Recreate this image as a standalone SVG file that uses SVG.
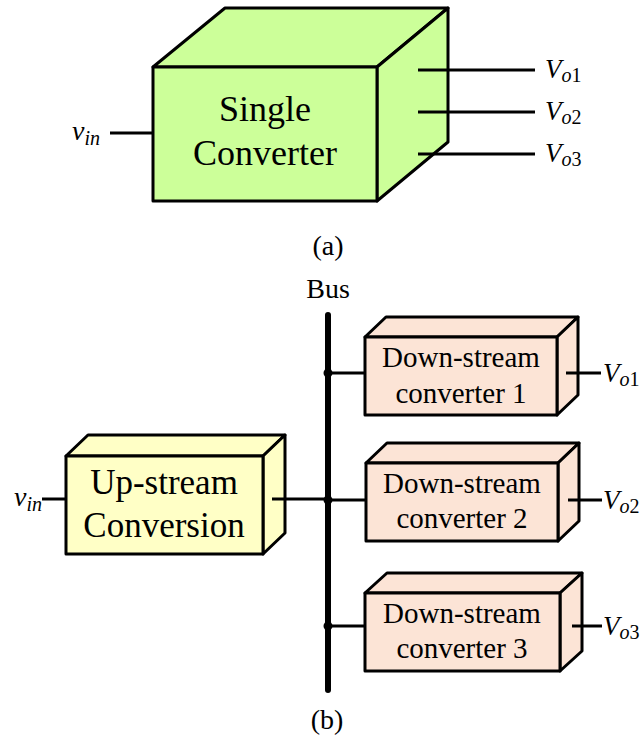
<svg xmlns="http://www.w3.org/2000/svg" width="643" height="749" viewBox="0 0 643 749" font-family="'Liberation Serif', 'Times New Roman', serif">
  <style>
    .box { stroke: #000; stroke-width: 3; stroke-linejoin: round; }
    .green { fill: #ccff99; }
    .yellow { fill: #ffffc6; }
    .peach { fill: #fce4d6; }
    .wire { stroke: #000; stroke-width: 3; fill: none; }
    .bus { stroke: #000; stroke-width: 6; stroke-linecap: round; fill: none; }
    text { fill: #000; }
    .lbl { text-anchor: middle; }
    .it { font-style: italic; }
  </style>

  <!-- (a) single converter -->
  <g id="single-converter">
    <polygon class="box green" points="153,67 225,8 448,8 377,67"/>
    <polygon class="box green" points="377,67 448,8 448,142 377,201"/>
    <rect class="box green" x="153" y="67" width="224" height="134"/>
    <text class="lbl" x="265" y="121" font-size="36">Single</text>
    <text class="lbl" x="265" y="165" font-size="36">Converter</text>
  </g>

  <g id="connectors-a">
    <line class="wire" x1="110" y1="133" x2="153" y2="133"/>
    <line class="wire" x1="418" y1="70" x2="535" y2="70"/>
    <line class="wire" x1="418" y1="112" x2="535" y2="112"/>
    <line class="wire" x1="418" y1="154" x2="535" y2="154"/>
  </g>

  <g id="labels-a">
    <text x="72" y="140" font-size="28" class="it">v<tspan font-size="20" dy="5">in</tspan></text>
    <text x="545" y="78" font-size="27" class="it">V<tspan font-size="20" dy="4">o</tspan><tspan font-size="20" font-style="normal">1</tspan></text>
    <text x="545" y="120" font-size="27" class="it">V<tspan font-size="20" dy="4">o</tspan><tspan font-size="20" font-style="normal">2</tspan></text>
    <text x="545" y="162" font-size="27" class="it">V<tspan font-size="20" dy="4">o</tspan><tspan font-size="20" font-style="normal">3</tspan></text>
    <text class="lbl" x="328" y="255" font-size="28">(a)</text>
  </g>

  <!-- (b) bus architecture -->
  <g id="up-stream">
    <polygon class="box yellow" points="66,456 88,435 285,435 263,456"/>
    <polygon class="box yellow" points="263,456 285,435 285,533 263,554"/>
    <rect class="box yellow" x="66" y="456" width="197" height="98"/>
    <text class="lbl" x="164" y="494" font-size="35">Up-stream</text>
    <text class="lbl" x="164" y="537" font-size="35">Conversion</text>
  </g>

  <g id="down-stream-1">
    <polygon class="box peach" points="365,337 386,317 578,317 557,337"/>
    <polygon class="box peach" points="557,337 578,317 578,395 557,415"/>
    <rect class="box peach" x="365" y="337" width="192" height="78"/>
    <text class="lbl" x="461" y="367" font-size="29">Down-stream</text>
    <text class="lbl" x="461" y="403" font-size="29">converter 1</text>
  </g>

  <g id="down-stream-2">
    <polygon class="box peach" points="366,463 387,443 579,443 558,463"/>
    <polygon class="box peach" points="558,463 579,443 579,521 558,541"/>
    <rect class="box peach" x="366" y="463" width="192" height="78"/>
    <text class="lbl" x="462" y="493" font-size="29">Down-stream</text>
    <text class="lbl" x="462" y="528" font-size="29">converter 2</text>
  </g>

  <g id="down-stream-3">
    <polygon class="box peach" points="365,593 387,573 582,573 560,593"/>
    <polygon class="box peach" points="560,593 582,573 582,651 560,671"/>
    <rect class="box peach" x="365" y="593" width="195" height="78"/>
    <text class="lbl" x="462" y="623" font-size="29">Down-stream</text>
    <text class="lbl" x="462" y="658" font-size="29">converter 3</text>
  </g>

  <g id="connectors-b">
    <line class="bus" x1="328" y1="315" x2="328" y2="690"/>
    <line class="wire" x1="42" y1="499" x2="66" y2="499"/>
    <line class="wire" x1="272" y1="499" x2="328" y2="499"/>
    <line class="wire" x1="328" y1="373" x2="365" y2="373"/>
    <line class="wire" x1="328" y1="500" x2="366" y2="500"/>
    <line class="wire" x1="328" y1="626" x2="365" y2="626"/>
    <line class="wire" x1="566" y1="373" x2="601" y2="373"/>
    <line class="wire" x1="568" y1="500" x2="602" y2="500"/>
    <line class="wire" x1="572" y1="626" x2="602" y2="626"/>
    <circle cx="328" cy="373" r="4.5"/>
    <circle cx="328" cy="500" r="4.5"/>
    <circle cx="328" cy="626" r="4.5"/>
  </g>

  <g id="labels-b">
    <text class="lbl" x="328" y="298" font-size="28">Bus</text>
    <text x="14" y="506" font-size="28" class="it">v<tspan font-size="20" dy="5">in</tspan></text>
    <text x="603" y="382" font-size="27" class="it">V<tspan font-size="20" dy="4">o</tspan><tspan font-size="20" font-style="normal">1</tspan></text>
    <text x="603" y="509" font-size="27" class="it">V<tspan font-size="20" dy="4">o</tspan><tspan font-size="20" font-style="normal">2</tspan></text>
    <text x="603" y="635" font-size="27" class="it">V<tspan font-size="20" dy="4">o</tspan><tspan font-size="20" font-style="normal">3</tspan></text>
    <text class="lbl" x="327" y="729" font-size="28">(b)</text>
  </g>
</svg>
